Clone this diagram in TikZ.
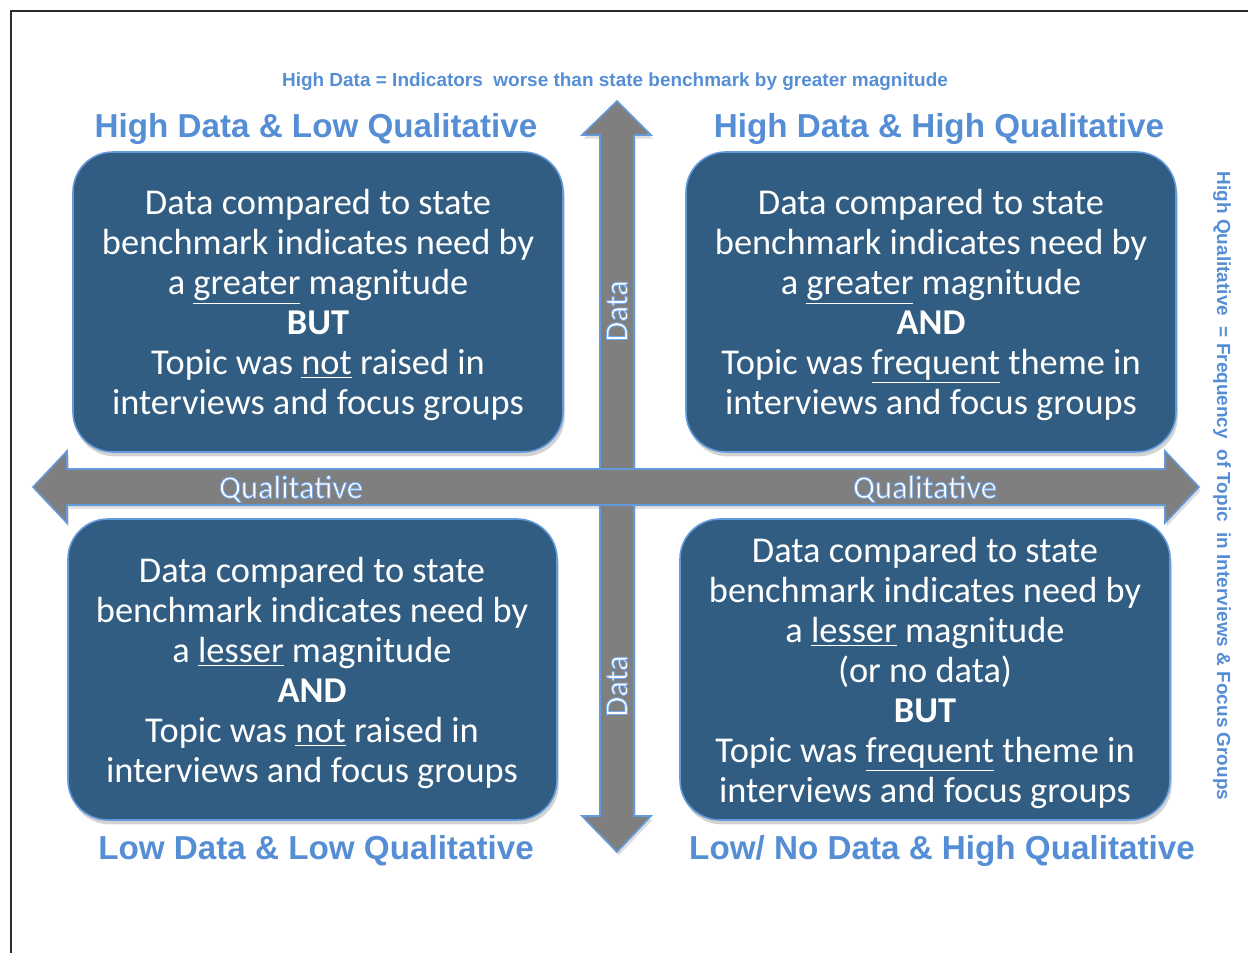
\documentclass[tikz,border=0pt]{standalone}
\usepackage{fontspec}
\setmainfont{Carlito}
\newfontfamily\hdr{Liberation Sans}
\usetikzlibrary{shadows}
\definecolor{boxblue}{RGB}{50,93,130}
\definecolor{edgeblue}{RGB}{98,154,220}
\definecolor{hdrblue}{RGB}{85,142,213}
\definecolor{arrgray}{RGB}{127,127,127}
\definecolor{framegray}{RGB}{45,45,45}
\tikzset{
  quad/.style={draw=edgeblue, line width=0.9pt, fill=boxblue, rounded corners=0.8cm,
    drop shadow={opacity=0.35, shadow xshift=1pt, shadow yshift=-2.5pt}},
  quadtext/.style={text=white, align=center, font=\fontsize{20.7}{22.7}\selectfont},
  bigarrow/.style={draw=edgeblue, line width=0.9pt, fill=arrgray,
    drop shadow={opacity=0.25, shadow xshift=1pt, shadow yshift=-2pt}},
  header/.style={text=hdrblue, font=\hdr\bfseries\fontsize{18.9}{22}\selectfont},
  note/.style={text=hdrblue, font=\hdr\bfseries\fontsize{10.8}{12}\selectfont},
  axislabel/.style={text=white, font=\fontsize{18.5}{20}\selectfont}
}
% white text with a thin blue outline (single text instance, fill+stroke render mode)
\newcommand{\glow}[1]{\special{pdf:literal direct 2 Tr 0.45 w 0.45 0.66 0.92 RG}#1\special{pdf:literal direct 0 Tr}}
\begin{document}
\begin{tikzpicture}[x=0.02cm, y=-0.02cm]
\useasboundingbox (0,0) rectangle (1248,953);
% frame
\draw[framegray, line width=1.2pt] (11,953) -- (11,11) -- (1248,11);

% quadrant boxes
\draw[quad] (73,152) rectangle (563,452);
\draw[quad] (686,152) rectangle (1176,452);
\draw[quad] (68,519) rectangle (557,820);
\draw[quad] (680,519) rectangle (1170,820);

% vertical arrow
\draw[bigarrow] (617,101) -- (651,135) -- (634,135) -- (634,816) -- (651,816) -- (617,852)
  -- (582,816) -- (600,816) -- (600,135) -- (582,135) -- cycle;
% horizontal arrow
\draw[bigarrow] (33,487) -- (67,451) -- (67,469) -- (1165,469) -- (1165,451) -- (1199,487)
  -- (1165,523) -- (1165,505) -- (67,505) -- (67,523) -- cycle;

% box texts
\node[quadtext] (tl) at (318,305) {Data compared to state\\benchmark indicates need by\\a \underline{greater} magnitude\\\textbf{BUT}\\Topic was \underline{not} raised in\\interviews and focus groups};
\node[quadtext] (tr) at (931,305) {Data compared to state\\benchmark indicates need by\\a \underline{greater} magnitude\\\textbf{AND}\\Topic was \underline{frequent} theme in\\interviews and focus groups};
\node[quadtext] (bl) at (312,673) {Data compared to state\\benchmark indicates need by\\a \underline{lesser} magnitude\\\textbf{AND}\\Topic was \underline{not} raised in\\interviews and focus groups};
\node[quadtext] (br) at (925,673) {Data compared to state\\benchmark indicates need by\\a \underline{lesser} magnitude\\(or no data)\\\textbf{BUT}\\Topic was \underline{frequent} theme in\\interviews and focus groups};

% headers
\node[header] (htl) at (316,129) {High Data \& Low Qualitative};
\node[header] (htr) at (939,129) {High Data \& High Qualitative};
\node[header] (hbl) at (316,851) {Low Data \& Low Qualitative};
\node[header] (hbr) at (942,851) {Low/ No Data \& High Qualitative};

% notes
\node[note] (ntop) at (615,82) {High Data = Indicators\ \ worse than state benchmark by\ greater\ magnitude};
\node[note, rotate=-90] (nright) at (1222,486) {High Qualitative\ \ = Frequency\ \ of Topic\ \ in Interviews \& Focus\ Groups};

% axis labels
\node[axislabel] (ql) at (291,489) {\glow{Qualitative}};
\node[axislabel] (qr) at (925,489) {\glow{Qualitative}};
\node[axislabel, rotate=90] (du) at (617,311) {\glow{Data}};
\node[axislabel, rotate=90] (dd) at (617,686) {\glow{Data}};
\end{tikzpicture}
\end{document}
